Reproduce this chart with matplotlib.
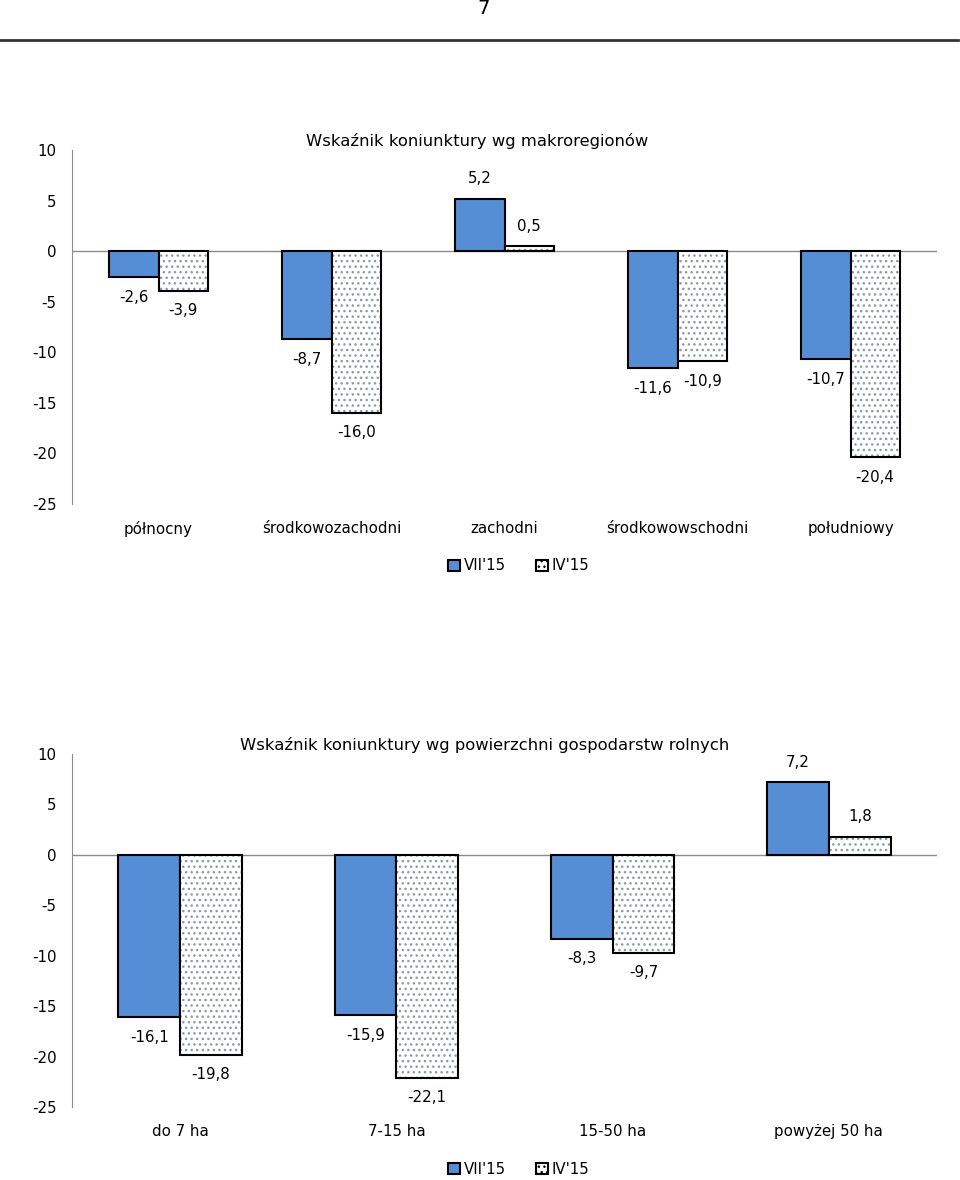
import matplotlib.pyplot as plt
from matplotlib.patches import Patch
from matplotlib.lines import Line2D

plt.rcParams['font.family'] = ['DejaVu Sans']
plt.rcParams['hatch.linewidth'] = 1.0

# data
regions = ['północny', 'środkowozachodni', 'zachodni', 'środkowowschodni', 'południowy']
reg_vii = [-2.6, -8.7, 5.2, -11.6, -10.7]
reg_iv = [-3.9, -16.0, 0.5, -10.9, -20.4]

sizes = ['do 7 ha', '7-15 ha', '15-50 ha', 'powyżej 50 ha']
size_vii = [-16.1, -15.9, -8.3, 7.2]
size_iv = [-19.8, -22.1, -9.7, 1.8]

series_names = ["VII'15", "IV'15"]
yticks = [10, 5, 0, -5, -10, -15, -20, -25]

blue = '#558ed5'
dots = '#8a9aa8'
fs = 10.8


def fmt(v):
    return ('%.1f' % v).replace('.', ',')


def draw(ax, cats, a, b):
    x = list(range(len(cats)))
    w = 0.285
    xa = [i - w / 2 for i in x]
    xb = [i + w / 2 for i in x]
    ax.bar(xa, a, w, color=blue, edgecolor='black', linewidth=1.5, zorder=3)
    ax.bar(xb, b, w, color='white', edgecolor=dots, hatch='...', linewidth=0, zorder=3)
    ax.bar(xb, b, w, color='none', edgecolor='black', linewidth=1.5, zorder=4)
    ax.set_xlim(-0.5, len(cats) - 0.5)
    ax.set_ylim(-25, 10)
    ax.set_yticks(yticks)
    ax.set_yticklabels([str(t) for t in yticks], fontsize=fs)
    ax.set_xticks(x)
    ax.set_xticklabels(cats, fontsize=fs)
    ax.tick_params(axis='y', length=0, pad=11)
    ax.tick_params(axis='x', length=0, pad=12)
    for s in ['top', 'right', 'bottom']:
        ax.spines[s].set_visible(False)
    ax.spines['left'].set_color('#8c8c8c')
    ax.axhline(0, color='#8c8c8c', linewidth=1, zorder=2)
    for xs, vals in [(xa, a), (xb, b)]:
        for xi, v in zip(xs, vals):
            off = 20 if v >= 0 else -20
            ax.annotate(fmt(v), (xi, v), xytext=(0, off), textcoords='offset pixels',
                        ha='center', va='center', fontsize=fs)
    return ax


fig = plt.figure(figsize=(9.6, 11.8), dpi=100)

fig.text(484 / 960, 1 - 8 / 1180, '7', ha='center', va='center', fontsize=14)
fig.add_artist(Line2D([0, 958 / 960], [1 - 40 / 1180] * 2, color='#333333', linewidth=2))

ax1 = fig.add_axes([72 / 960, 676 / 1180, 865 / 960, 354 / 1180])
draw(ax1, regions, reg_vii, reg_iv)
fig.text(477 / 960, 1 - 141 / 1180, 'Wskaźnik koniunktury wg makroregionów',
         ha='center', va='center', fontsize=11.8)

ax2 = fig.add_axes([72 / 960, 73 / 1180, 865 / 960, 353 / 1180])
draw(ax2, sizes, size_vii, size_iv)
fig.text(485 / 960, 1 - 745 / 1180, 'Wskaźnik koniunktury wg powierzchni gospodarstw rolnych',
         ha='center', va='center', fontsize=11.8)

handles = [Patch(facecolor=blue, edgecolor='black', linewidth=1.5),
           Patch(facecolor='white', edgecolor='black', hatch='...', linewidth=1.5)]
for yc in [566, 1169]:
    fig.legend(handles, series_names, loc='center', bbox_to_anchor=(519 / 960, 1 - yc / 1180),
               ncol=2, frameon=False, fontsize=fs, handlelength=0.8, handleheight=0.8,
               handletextpad=0.25, columnspacing=2.0)

fig.savefig('out.png', dpi=100)
